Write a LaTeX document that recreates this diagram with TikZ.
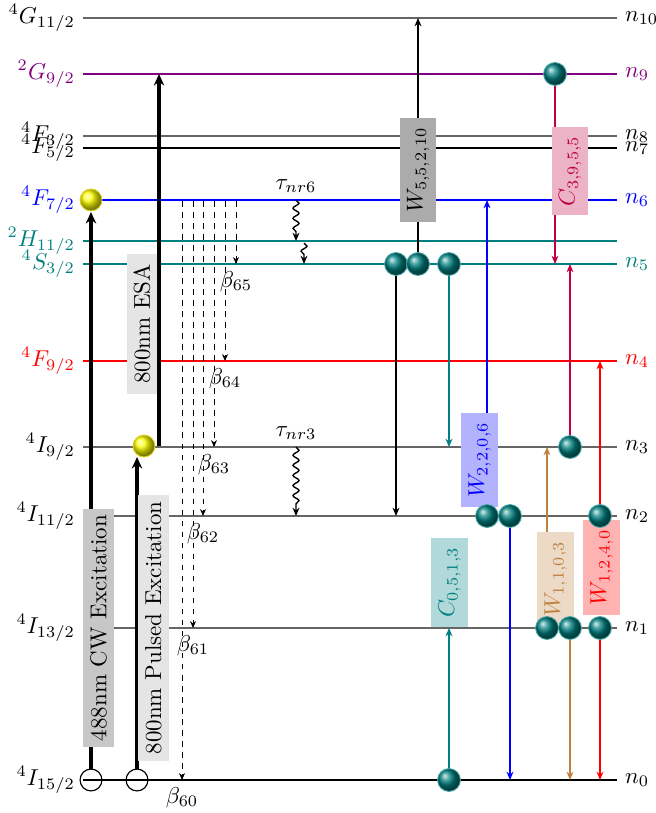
\documentclass[tikz,border=0pt]{standalone}
\usetikzlibrary{arrows.meta,decorations.pathmorphing}
\begin{document}
\begin{tikzpicture}[x=0.0153cm,y=-0.0153cm,
  lvl/.style={line width=0.45pt},
  llab/.style={anchor=east,inner sep=3.3pt},
  rlab/.style={anchor=west,inner sep=3.3pt},
  ball/.style={circle,inner sep=0pt,minimum size=0.35cm,shading=ball,ball color=teal,draw=teal!70,line width=0.4pt},
  yball/.style={circle,inner sep=0pt,minimum size=0.335cm,shading=ball,ball color=yellow,draw=yellow!85!black,line width=0.4pt},
  ground/.style={circle,draw,inner sep=0pt,minimum size=0.335cm,line width=0.5pt},
  tr/.style={line width=0.55pt,-{Stealth[length=3.6pt,width=3pt]}},
  pump/.style={line width=1.6pt,-{Stealth[length=5pt,width=4.5pt]}},
  decay/.style={dash pattern=on 2.4pt off 2.4pt,line width=0.4pt,-{Stealth[length=3pt,width=2.6pt]}},
  nr/.style={line width=0.6pt,decorate,decoration={snake,amplitude=1.3pt,segment length=4.4pt,post length=3.5pt},-{Stealth[length=3.6pt,width=3pt]}},
  tag/.style={rotate=90,inner xsep=4pt,inner ysep=3pt},
  blab/.style={anchor=north,inner sep=3pt},
]
\useasboundingbox (0,0) rectangle (655,813);

% ---------- level labels ----------
\node[llab] (l10) at (83,18) {$^4G_{11/2}$};
\node[llab,text=violet] (l9) at (83,74) {$^2G_{9/2}$};
\node[llab] (l8) at (83,136) {$^4F_{3/2}$};
\node[llab] (l7) at (83,148) {$^4F_{5/2}$};
\node[llab,text=blue] (l6) at (83,200) {$^4F_{7/2}$};
\node[llab,text=teal] (lH) at (83,241) {$^2H_{11/2}$};
\node[llab,text=teal] (l5) at (83,264) {$^4S_{3/2}$};
\node[llab,text=red] (l4) at (83,361) {$^4F_{9/2}$};
\node[llab] (l3) at (83,447) {$^4I_{9/2}$};
\node[llab] (l2) at (83,516) {$^4I_{11/2}$};
\node[llab] (l1) at (83,628) {$^4I_{13/2}$};
\node[llab] (l0) at (83,780) {$^4I_{15/2}$};

\node[rlab] (r10) at (617,18) {$n_{10}$};
\node[rlab,text=violet] (r9) at (617,74) {$n_9$};
\node[rlab] (r8) at (617,136) {$n_8$};
\node[rlab] (r7) at (617,148) {$n_7$};
\node[rlab,text=blue] (r6) at (617,200) {$n_6$};
\coordinate (rH) at (617,241);
\node[rlab,text=teal] (r5) at (617,264) {$n_5$};
\node[rlab,text=red] (r4) at (617,361) {$n_4$};
\node[rlab] (r3) at (617,447) {$n_3$};
\node[rlab] (r2) at (617,516) {$n_2$};
\node[rlab] (r1) at (617,628) {$n_1$};
\node[rlab] (r0) at (617,780) {$n_0$};

% ---------- level lines ----------
\draw[lvl,black!60] (l10.east) -- (r10.west);
\draw[lvl,violet] (l9.east) -- (r9.west);
\draw[lvl,black!60] (l8.east) -- (r8.west);
\draw[lvl,black] (l7.east) -- (r7.west);
\draw[lvl,blue] (l6.east) -- (r6.west);
\draw[lvl,teal] (lH.east) -- (rH);
\draw[lvl,teal] (l5.east) -- (r5.west);
\draw[lvl,red] (l4.east) -- (r4.west);
\draw[lvl,black!60] (l3.east) -- (r3.west);
\draw[lvl,black!60] (l2.east) -- (r2.west);
\draw[lvl,black!60] (l1.east) -- (r1.west);
\draw[lvl,black] (l0.east) -- (r0.west);

% ---------- coordinates ----------
\coordinate (g1) at (91,780);
\coordinate (g2) at (137,780);
\coordinate (y1) at (91,200);
\coordinate (y2) at (144,446);
\coordinate (p1s) at (91,769);
\coordinate (p1e) at (91,212);
\coordinate (p2s) at (137,769);
\coordinate (p2e) at (137,457);
\coordinate (p3s) at (159,446);
\coordinate (p3e) at (159,74);

\coordinate (a5) at (396,264);
\coordinate (b5) at (418,264);
\coordinate (c5) at (449,264);
\coordinate (a2) at (487,516);
\coordinate (b2) at (510,516);
\coordinate (c2) at (600,516);
\coordinate (a9) at (555,74);
\coordinate (a3) at (570,447);
\coordinate (a1) at (547,628);
\coordinate (b1) at (570,628);
\coordinate (c1) at (600,628);
\coordinate (a0) at (449,780);

\coordinate (ta5) at (396,516);
\coordinate (tb5) at (418,18);
\coordinate (tc5) at (449,447);
\coordinate (ta2) at (487,200);
\coordinate (tb2) at (510,780);
\coordinate (tc2) at (600,361);
\coordinate (ta9) at (555,264);
\coordinate (ta3) at (570,264);
\coordinate (ta1) at (547,447);
\coordinate (tb1) at (570,780);
\coordinate (tc1) at (600,780);
\coordinate (ta0) at (449,628);

% ---------- pumping ----------
\draw[pump] (p1s) -- (p1e);
\draw[pump] (p2s) -- (p2e);
\draw[pump] (p3s) -- (p3e);

% ---------- radiative decays from n6 ----------
\foreach \x/\y/\n in {236/264/65,225/361/64,214/447/63,203/516/62,193/628/61,182/780/60}{
  \coordinate (ds\n) at (\x,201);
  \coordinate (de\n) at (\x,\y);
  \draw[decay] (ds\n) -- (de\n);
  \node[blab] (beta\n) at (de\n) {$\beta_{\n}$};
}

% ---------- nonradiative ----------
\coordinate (s1) at (296,200); \coordinate (e1) at (296,241);
\coordinate (s2) at (304,243); \coordinate (e2) at (304,264);
\coordinate (s3) at (296,447); \coordinate (e3) at (296,516);
\draw[nr] (s1) -- (e1);
\draw[nr] (s2) -- (e2);
\draw[nr] (s3) -- (e3);
\node[anchor=south,inner sep=3pt] (tau6) at (296,200) {$\tau_{nr6}$};
\node[anchor=south,inner sep=3pt] (tau3) at (296,447) {$\tau_{nr3}$};

% ---------- energy transfer arrows ----------
\draw[tr,black] (a5) -- (ta5);
\draw[tr,black] (b5) -- (tb5);
\draw[tr,teal] (c5) -- (tc5);
\draw[tr,blue] (a2) -- (ta2);
\draw[tr,blue] (b2) -- (tb2);
\draw[tr,red] (c2) -- (tc2);
\draw[tr,purple] (a9) -- (ta9);
\draw[tr,purple] (a3) -- (ta3);
\draw[tr,brown] (a1) -- (ta1);
\draw[tr,brown] (b1) -- (tb1);
\draw[tr,red] (c1) -- (tc1);
\draw[tr,teal] (a0) -- (ta0);

% ---------- label boxes ----------
\node[tag,fill=black!22,inner xsep=2.5pt] (cw) at (98.5,628) {488nm CW Excitation};
\node[tag,fill=black!10,inner xsep=3pt] (pe) at (153.5,628) {800nm Pulsed Excitation};
\node[tag,fill=black!10,inner xsep=4.5pt] (esa) at (142,324) {800nm ESA};
\node[tag,fill=black!33] (w5) at (418,170) {$W_{5,5,2,10}$};
\node[tag,fill=blue!30,text=blue] (w2) at (479.5,460) {$W_{2,2,0,6}$};
\node[tag,fill=purple!30,text=purple] (c3) at (570,171) {$C_{3,9,5,5}$};
\node[tag,fill=teal!30,text=teal] (c0) at (449.5,582.5) {$C_{0,5,1,3}$};
\node[tag,fill=brown!30,text=brown] (w1) at (555.5,579) {$W_{1,1,0,3}$};
\node[tag,fill=red!30,text=red] (w12) at (601.5,567.5) {$W_{1,2,4,0}$};

% ---------- ions ----------
\node[ground] (G1) at (g1) {};
\node[ground] (G2) at (g2) {};
\node[yball] (Y1) at (y1) {};
\node[yball] (Y2) at (y2) {};
\foreach \c in {a5,b5,c5,a2,b2,c2,a9,a3,a1,b1,c1,a0}{
  \node[ball] (B\c) at (\c) {};
}
\end{tikzpicture}
\end{document}
